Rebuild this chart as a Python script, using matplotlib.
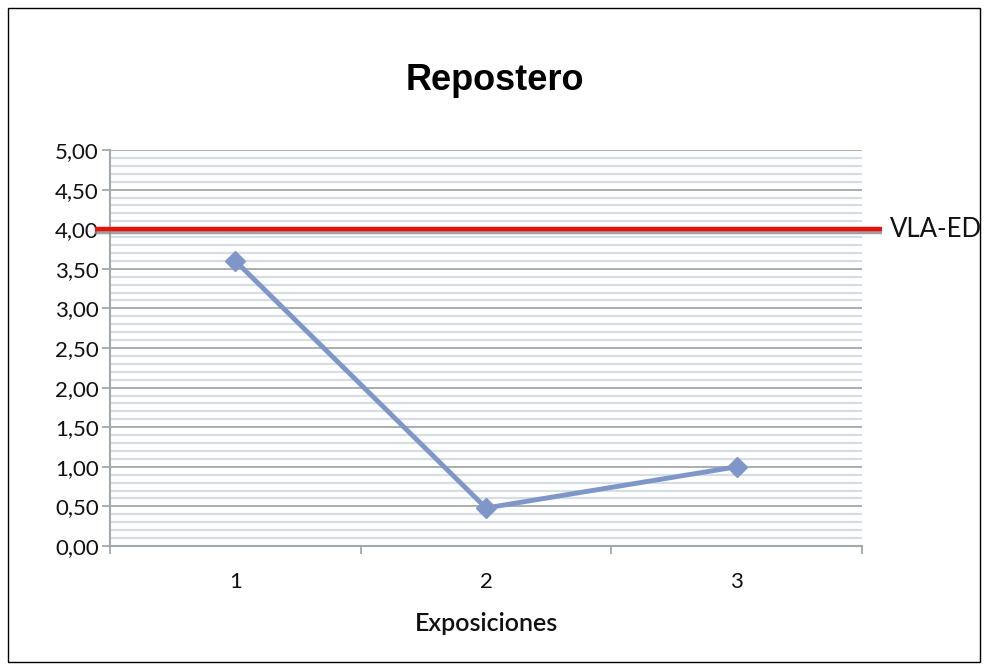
import matplotlib
matplotlib.use("Agg")
import matplotlib.pyplot as plt
import matplotlib.patheffects as pe
import matplotlib.transforms as mtransforms
import numpy as np

plt.rcParams['font.family'] = ['Lato', 'DejaVu Sans']

# Data
exposiciones = [1, 2, 3]
valores = [3.6, 0.48, 1.0]
vla_ed = 4.0
vla_label = "VLA-ED"
title = "Repostero"
xlabel = "Exposiciones"
y_ticks = [0.0, 0.5, 1.0, 1.5, 2.0, 2.5, 3.0, 3.5, 4.0, 4.5, 5.0]

fig = plt.figure(figsize=(9.88, 6.70), dpi=100)
fig.patch.set_facecolor('white')

# Outer frame around the whole chart
frame = plt.Rectangle((8 / 988, 8 / 670), 972 / 988, 654 / 670, transform=fig.transFigure,
                      fill=False, edgecolor='black', linewidth=1.0)
fig.add_artist(frame)

ax = fig.add_axes([110 / 988, 1 - 546 / 670, 752 / 988, 396 / 670])
ax.set_xlim(0.5, 3.5)
ax.set_ylim(0, 5)

# Grid: minor every 0.1, major every 0.5
for y in np.arange(0.1, 5.0001, 0.1):
    if abs(round(y / 0.5) * 0.5 - y) > 1e-6:
        ax.axhline(y, color='#D6DDE4', linewidth=1.6, zorder=0)
for y in y_ticks[1:]:
    ax.axhline(y, color='#A3A8AC', linewidth=1.3, zorder=0)

for side in ['top', 'right']:
    ax.spines[side].set_visible(False)
for side in ['left', 'bottom']:
    ax.spines[side].set_color('#A3A8AC')
    ax.spines[side].set_linewidth(1.5)

ax.set_yticks(y_ticks)
ax.set_yticklabels([f"{v:.2f}".replace('.', ',') for v in y_ticks], fontsize=16, color='#111111')
ax.tick_params(axis='y', length=6, width=1.3, color='#A3A8AC', pad=2)

# Category ticks at boundaries, labels at centres
ax.set_xticks([0.5, 1.5, 2.5, 3.5])
ax.set_xticklabels([])
ax.set_xticks(exposiciones, minor=True)
ax.set_xticklabels([str(v) for v in exposiciones], minor=True, fontsize=16, color='#111111')
ax.tick_params(axis='x', which='major', length=6, width=1.3, color='#A3A8AC')
ax.tick_params(axis='x', which='minor', length=0, pad=19)

ax.set_xlabel(xlabel, fontsize=18, fontweight='semibold', labelpad=14, color='#111111')
ax.set_title(title, fontsize=26, fontweight='bold', pad=43, x=0.512,
             family=['Liberation Sans', 'DejaVu Sans'])

# Series
ax.plot(exposiciones, valores, color='#7E97C8', linewidth=3.5, marker='D', markersize=10,
        markerfacecolor='#7E97C8', markeredgecolor='#7E97C8', zorder=4)

# Exposure limit line extending past the plot area
trans = mtransforms.blended_transform_factory(ax.transAxes, ax.transData)
ax.plot([-0.02, 1.027], [vla_ed, vla_ed], transform=trans, color='#E8120C', linewidth=3.2,
        clip_on=False, zorder=5, solid_capstyle='butt',
        path_effects=[pe.SimpleLineShadow(offset=(0, -2.2), shadow_color='#8A8A8A', alpha=0.8),
                      pe.Normal()])
ax.text(1.037, vla_ed, vla_label, transform=trans, fontsize=18.5, va='center', ha='left',
        color='#111111')

fig.savefig('out.png', dpi=100, facecolor='white')
